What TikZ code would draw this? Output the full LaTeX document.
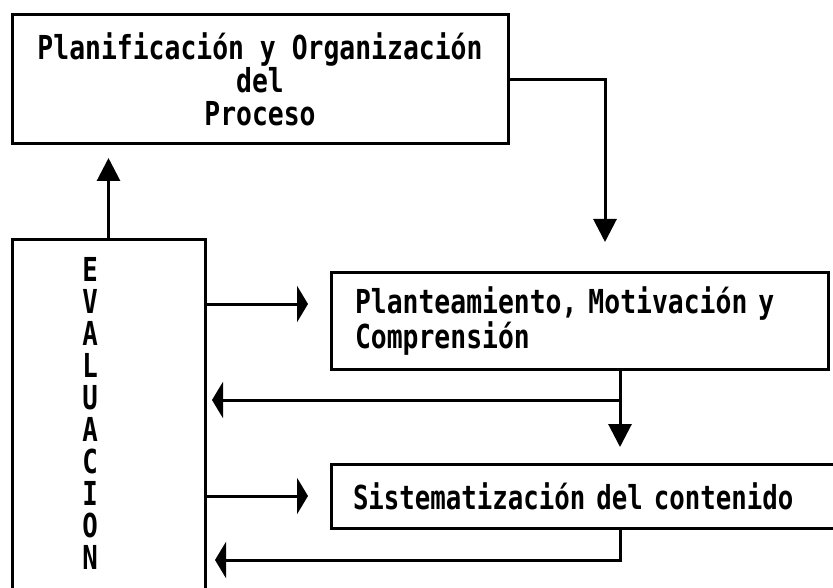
\documentclass[tikz,border=0pt]{standalone}
\usepackage{fontspec}
\newfontfamily\diafont[FakeStretch=0.78]{DejaVu Sans Mono}
\newfontfamily\widefont[FakeStretch=0.80]{DejaVu Sans Mono}
\usetikzlibrary{arrows.meta,calc}

\begin{document}
\begin{tikzpicture}[x=1pt,y=-1pt,line width=3pt,
    font=\diafont\bfseries\fontsize{33}{32}\selectfont,
    box/.style={draw,outer sep=0pt},
    vtip/.style={-{Triangle[length=23pt,width=23pt]}},
    htip/.style={-{Triangle[length=11pt,width=36pt]}}]

  \useasboundingbox (0,0) rectangle (833,588);

  % planning box
  \node[box,minimum width=496,minimum height=129,align=center,
        font=\widefont\bfseries\fontsize{33}{33}\selectfont] (plan) at (260,79.5)
    {Planificación y Organización\\del\\Proceso};

  % evaluation column
  \node[box,anchor=north west,minimum width=193,minimum height=370] (eval) at (12,240) {};
  \node[align=center,inner sep=0pt] (evaltxt) at (90,413)
    {E\\V\\A\\L\\U\\A\\C\\I\\O\\N};

  % phases
  \node[box,minimum width=497,minimum height=96,text width=449,
        inner xsep=24pt,align=left,
        font=\widefont\bfseries\fontsize{33}{32}\selectfont] (plant) at (579.5,321)
    {Planteamiento, Motivación y\\Comprensión};
  \node[box,minimum width=514,minimum height=64,text width=470,
        inner xsep=22pt,align=left] (sist) at (588,496)
    {Sistematización del contenido};

  % helper points
  \coordinate (inA) at ([yshift=17pt]plant.west);
  \coordinate (fbA) at ([xshift=40.5pt]plant.south);
  \coordinate (brA) at ($(fbA)+(0,31)$);
  \coordinate (brB) at ($(fbA |- sist.south)+(0,32)$);

  % arrows
  \draw[vtip,shorten >=14pt] (eval.north) -- (eval.north |- plan.south);
  \draw[vtip,shorten >=31pt] (plan.east) -| ([xshift=25.5pt]plant.north);
  \draw[htip,shorten >=23pt] (eval.east |- inA) -- (inA);
  \draw[vtip,shorten >=17pt] (fbA) -- (fbA |- sist.north);
  \draw[htip,shorten >=7pt] (brA) -- (eval.east |- brA);
  \draw[htip,shorten >=23pt] (eval.east |- sist.west) -- (sist.west);
  \draw[htip,shorten >=10pt] (fbA |- sist.south) -- (brB) -- (eval.east |- brB);

\end{tikzpicture}
\end{document}
